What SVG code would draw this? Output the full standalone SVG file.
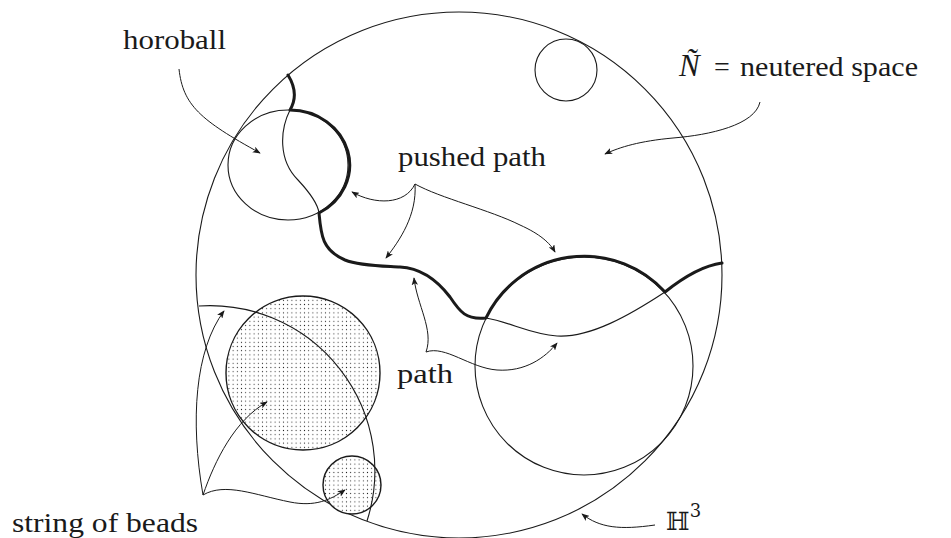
<svg xmlns="http://www.w3.org/2000/svg" width="951" height="538" viewBox="0 0 951 538">
<style>
.thin{fill:none;stroke:#1a1a1a;stroke-width:1.1}
.thick{fill:none;stroke:#1a1a1a;stroke-width:3;stroke-linejoin:round;stroke-linecap:round}
.bead{fill:url(#dots);stroke:#1a1a1a;stroke-width:1.4}
.arr{fill:none;stroke:#1a1a1a;stroke-width:1;marker-end:url(#ah)}
.lbl{font-family:"Liberation Serif","DejaVu Serif",serif;font-size:28px;fill:#1a1a1a}
</style>
<defs>
<pattern id="dots" width="4.2" height="4.2" patternUnits="userSpaceOnUse">
<rect width="4.2" height="4.2" fill="#fff"/>
<circle cx="2.1" cy="2.1" r="0.55" fill="#222"/>
</pattern>
<marker id="ah" viewBox="0 0 10 8" refX="9" refY="4" markerWidth="8" markerHeight="6.4" markerUnits="userSpaceOnUse" orient="auto">
<path d="M0,0 L10,4 L0,8 L2.5,4 z" fill="#1a1a1a"/>
</marker>
</defs>
<rect width="951" height="538" fill="#fff"/>

<g id="h3-ball"><circle class="thin" cx="459" cy="275" r="263"/></g>
<g id="small-horoball"><circle class="thin" cx="566" cy="70" r="31"/></g>
<g id="horoball"><ellipse class="thin" cx="288" cy="165" rx="60" ry="55"/></g>
<g id="right-horoball"><circle class="thin" cx="584" cy="366" r="109"/></g>
<g id="bead-large"><circle class="bead" cx="303" cy="373" r="77"/></g>
<g id="bead-small"><circle class="bead" cx="352" cy="485" r="29"/></g>
<g id="string-arc"><path class="thin" d="M199,306 A165,165 0 0 1 367,521"/></g>

<g id="path">
<path class="thin" d="M288,75 C296,88 296,100 290,110 C280,130 278,160 298,180 C312,195 318,205 319,213 C321,235 322,250 345,260 C360,266 385,266 400,267 C420,268 437,280 450,297 C460,312 466,320 486,318 C510,322 530,334 557,336 C590,338 630,315 665,292 C680,280 700,266 722,263"/>
</g>
<g id="pushed-path">
<path class="thick" d="M288,75 C296,88 296,100 290,110 A60,55 0 0 1 319,213 C321,235 322,250 345,260 C360,266 385,266 400,267 C420,268 437,280 450,297 C460,312 466,320 486,318 A109,109 0 0 1 665,292 C680,280 700,266 722,263"/>
</g>

<g id="connectors">
<path class="arr" d="M179,69 C183,105 200,120 260,153"/>
<path class="arr" d="M760,102 C755,125 710,135 673,138 C640,141 620,147 605,154"/>
<path class="arr" d="M415,184 C405,205 375,205 352,192"/>
<path class="arr" d="M415,184 C417,215 400,240 386,258"/>
<path class="arr" d="M415,184 C440,198 490,210 520,225 C540,234 550,243 555,252"/>
<path class="arr" d="M426,352 C434,330 417,305 414,278"/>
<path class="arr" d="M426,352 C445,345 470,368 497,370 C525,372 545,358 557,343"/>
<path class="arr" d="M203,495 C190,420 195,350 224,311"/>
<path class="arr" d="M203,495 C215,460 235,420 267,402"/>
<path class="arr" d="M203,495 C225,482 255,495 290,502 C315,507 330,500 345,490"/>
<path class="arr" d="M655,525 C620,530 600,528 582,514"/>
</g>

<g id="labels">
<text class="lbl" x="123" y="49" textLength="103" lengthAdjust="spacingAndGlyphs">horoball</text>
<text class="lbl" x="398" y="166" textLength="148" lengthAdjust="spacingAndGlyphs">pushed path</text>
<text class="lbl" x="397" y="383" textLength="56" lengthAdjust="spacingAndGlyphs">path</text>
<text class="lbl" x="12" y="532" textLength="186" lengthAdjust="spacingAndGlyphs">string of beads</text>
<text class="lbl" x="679" y="76" font-style="italic" style="font-size:31px">Ñ</text>
<text class="lbl" x="714" y="76">=</text>
<text class="lbl" x="740" y="76" textLength="178" lengthAdjust="spacingAndGlyphs">neutered space</text>
<text class="lbl" x="666" y="530" style="font-family:'DejaVu Serif','DejaVu Sans',serif;font-size:25px">ℍ<tspan dy="-13" style="font-size:18px">3</tspan></text>
</g>
</svg>
